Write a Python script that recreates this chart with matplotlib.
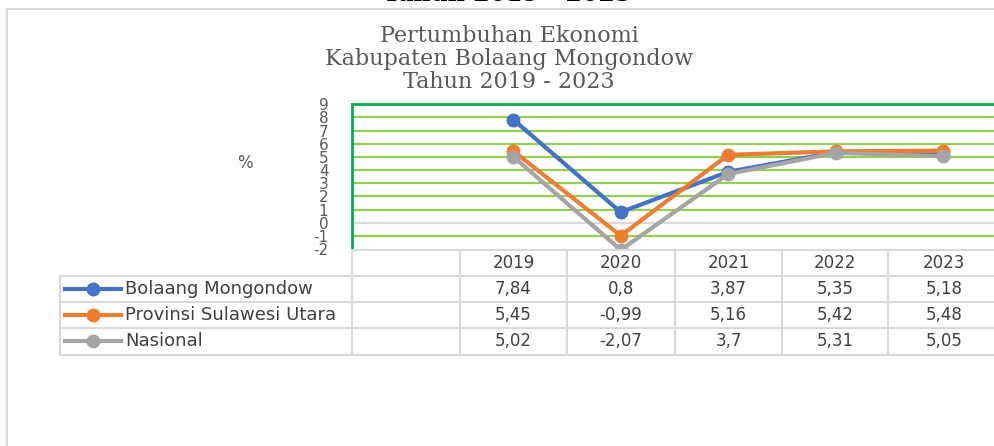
import numpy as np
import matplotlib
matplotlib.use("Agg")
import matplotlib.pyplot as plt
from matplotlib.patches import Rectangle

# data
years = ["2019", "2020", "2021", "2022", "2023"]
series_names = ["Bolaang Mongondow", "Provinsi Sulawesi Utara", "Nasional"]
bolmong = [7.84, 0.8, 3.87, 5.35, 5.18]
sulut = [5.45, -0.99, 5.16, 5.42, 5.48]
nasional = [5.02, -2.07, 3.7, 5.31, 5.05]
series_values = [bolmong, sulut, nasional]
colors = ["#4472C4", "#ED7D31", "#A5A5A5"]
title_lines = ["Pertumbuhan Ekonomi", "Kabupaten Bolaang Mongondow", "Tahun 2019 - 2023"]

W, H = 995, 446
fig = plt.figure(figsize=(W / 100, H / 100), dpi=100)

def px(x0, y0, x1, y1):
    return [x0 / W, 1 - y1 / H, (x1 - x0) / W, (y1 - y0) / H]

sans = "DejaVu Sans"
serif = "DejaVu Serif"

# outer chart border
fig.patches.append(Rectangle((7 / W, -0.1), 1.2, 1 - 9 / H + 0.1, transform=fig.transFigure,
                             fill=False, edgecolor="#D9D9D9", lw=1.5))

# cut-off heading above the chart
fig.text(507 / W, 1 - 1 / H, "Tahun 2019 - 2023", ha="center", va="baseline",
         fontsize=17, fontweight="bold", family=serif, color="black")

# chart title, one line at a time
for k, line in enumerate(title_lines):
    fig.text(509 / W, 1 - (42 + 23 * k) / H, line, ha="center", va="baseline", fontsize=16,
             family=serif, color="#595959")

# plot area
ax = fig.add_axes(px(352, 104.3, 997, 249))
ax.set_xlim(0, 6)
ax.set_ylim(-2, 9)
for y in range(-1, 9):
    ax.axhline(y, color="#D9D9D9" if y == 0 else "#92D050", lw=1.6, zorder=1)
for s in ["right", "bottom"]:
    ax.spines[s].set_visible(False)
for s in ["left", "top"]:
    ax.spines[s].set_color("#00B050")
    ax.spines[s].set_linewidth(2)
ax.set_xticks([])
ax.set_yticks(range(-2, 10))
ax.set_yticklabels([str(v) for v in range(-2, 10)], fontsize=11, family=sans, color="#595959")
ax.tick_params(axis="y", length=0, pad=17)
ax.set_facecolor("none")

xs = np.arange(len(years)) + 1.5
for vals, c in zip(series_values, colors):
    ax.plot(xs, vals, color=c, lw=3, marker="o", ms=9, zorder=3)

fig.text(245 / W, 1 - 163 / H, "%", ha="center", va="center", fontsize=12, family=sans, color="#595959")

# data table
tax = fig.add_axes([0, 0, 1, 1])
tax.set_xlim(0, W)
tax.set_ylim(H, 0)
tax.axis("off")
lc = "#D9D9D9"
col_edges = [352, 460, 567, 675, 782, 888, 1000]
row_edges = [250, 275.5, 301.5, 327.5, 354.5]
tax.plot([352, 1000], [250, 250], color=lc, lw=1.5)
for y in row_edges[1:]:
    tax.plot([60, 1000], [y, y], color=lc, lw=1.5)
tax.plot([60, 60], [row_edges[1], row_edges[-1]], color=lc, lw=1.5)
for x in col_edges[:-1]:
    tax.plot([x, x], [row_edges[0], row_edges[-1]], color=lc, lw=1.5)

tcol = "#404040"
hy = (row_edges[0] + row_edges[1]) / 2
for i, yr in enumerate(years):
    cx = (col_edges[i + 1] + col_edges[i + 2]) / 2
    tax.text(cx, hy, yr, ha="center", va="center", fontsize=12, family=sans, color=tcol)

for r, (name, vals, c) in enumerate(zip(series_names, series_values, colors)):
    cy = (row_edges[r + 1] + row_edges[r + 2]) / 2
    tax.plot([65, 121], [cy, cy], color=c, lw=3)
    tax.plot([93], [cy], marker="o", ms=9, color=c)
    tax.text(125, cy, name, ha="left", va="center", fontsize=13, family=sans, color=tcol)
    for i, v in enumerate(vals):
        cx = (col_edges[i + 1] + col_edges[i + 2]) / 2
        tax.text(cx, cy, f"{v:g}".replace(".", ","), ha="center", va="center",
                 fontsize=12, family=sans, color=tcol)

fig.savefig("out.png", dpi=100)
